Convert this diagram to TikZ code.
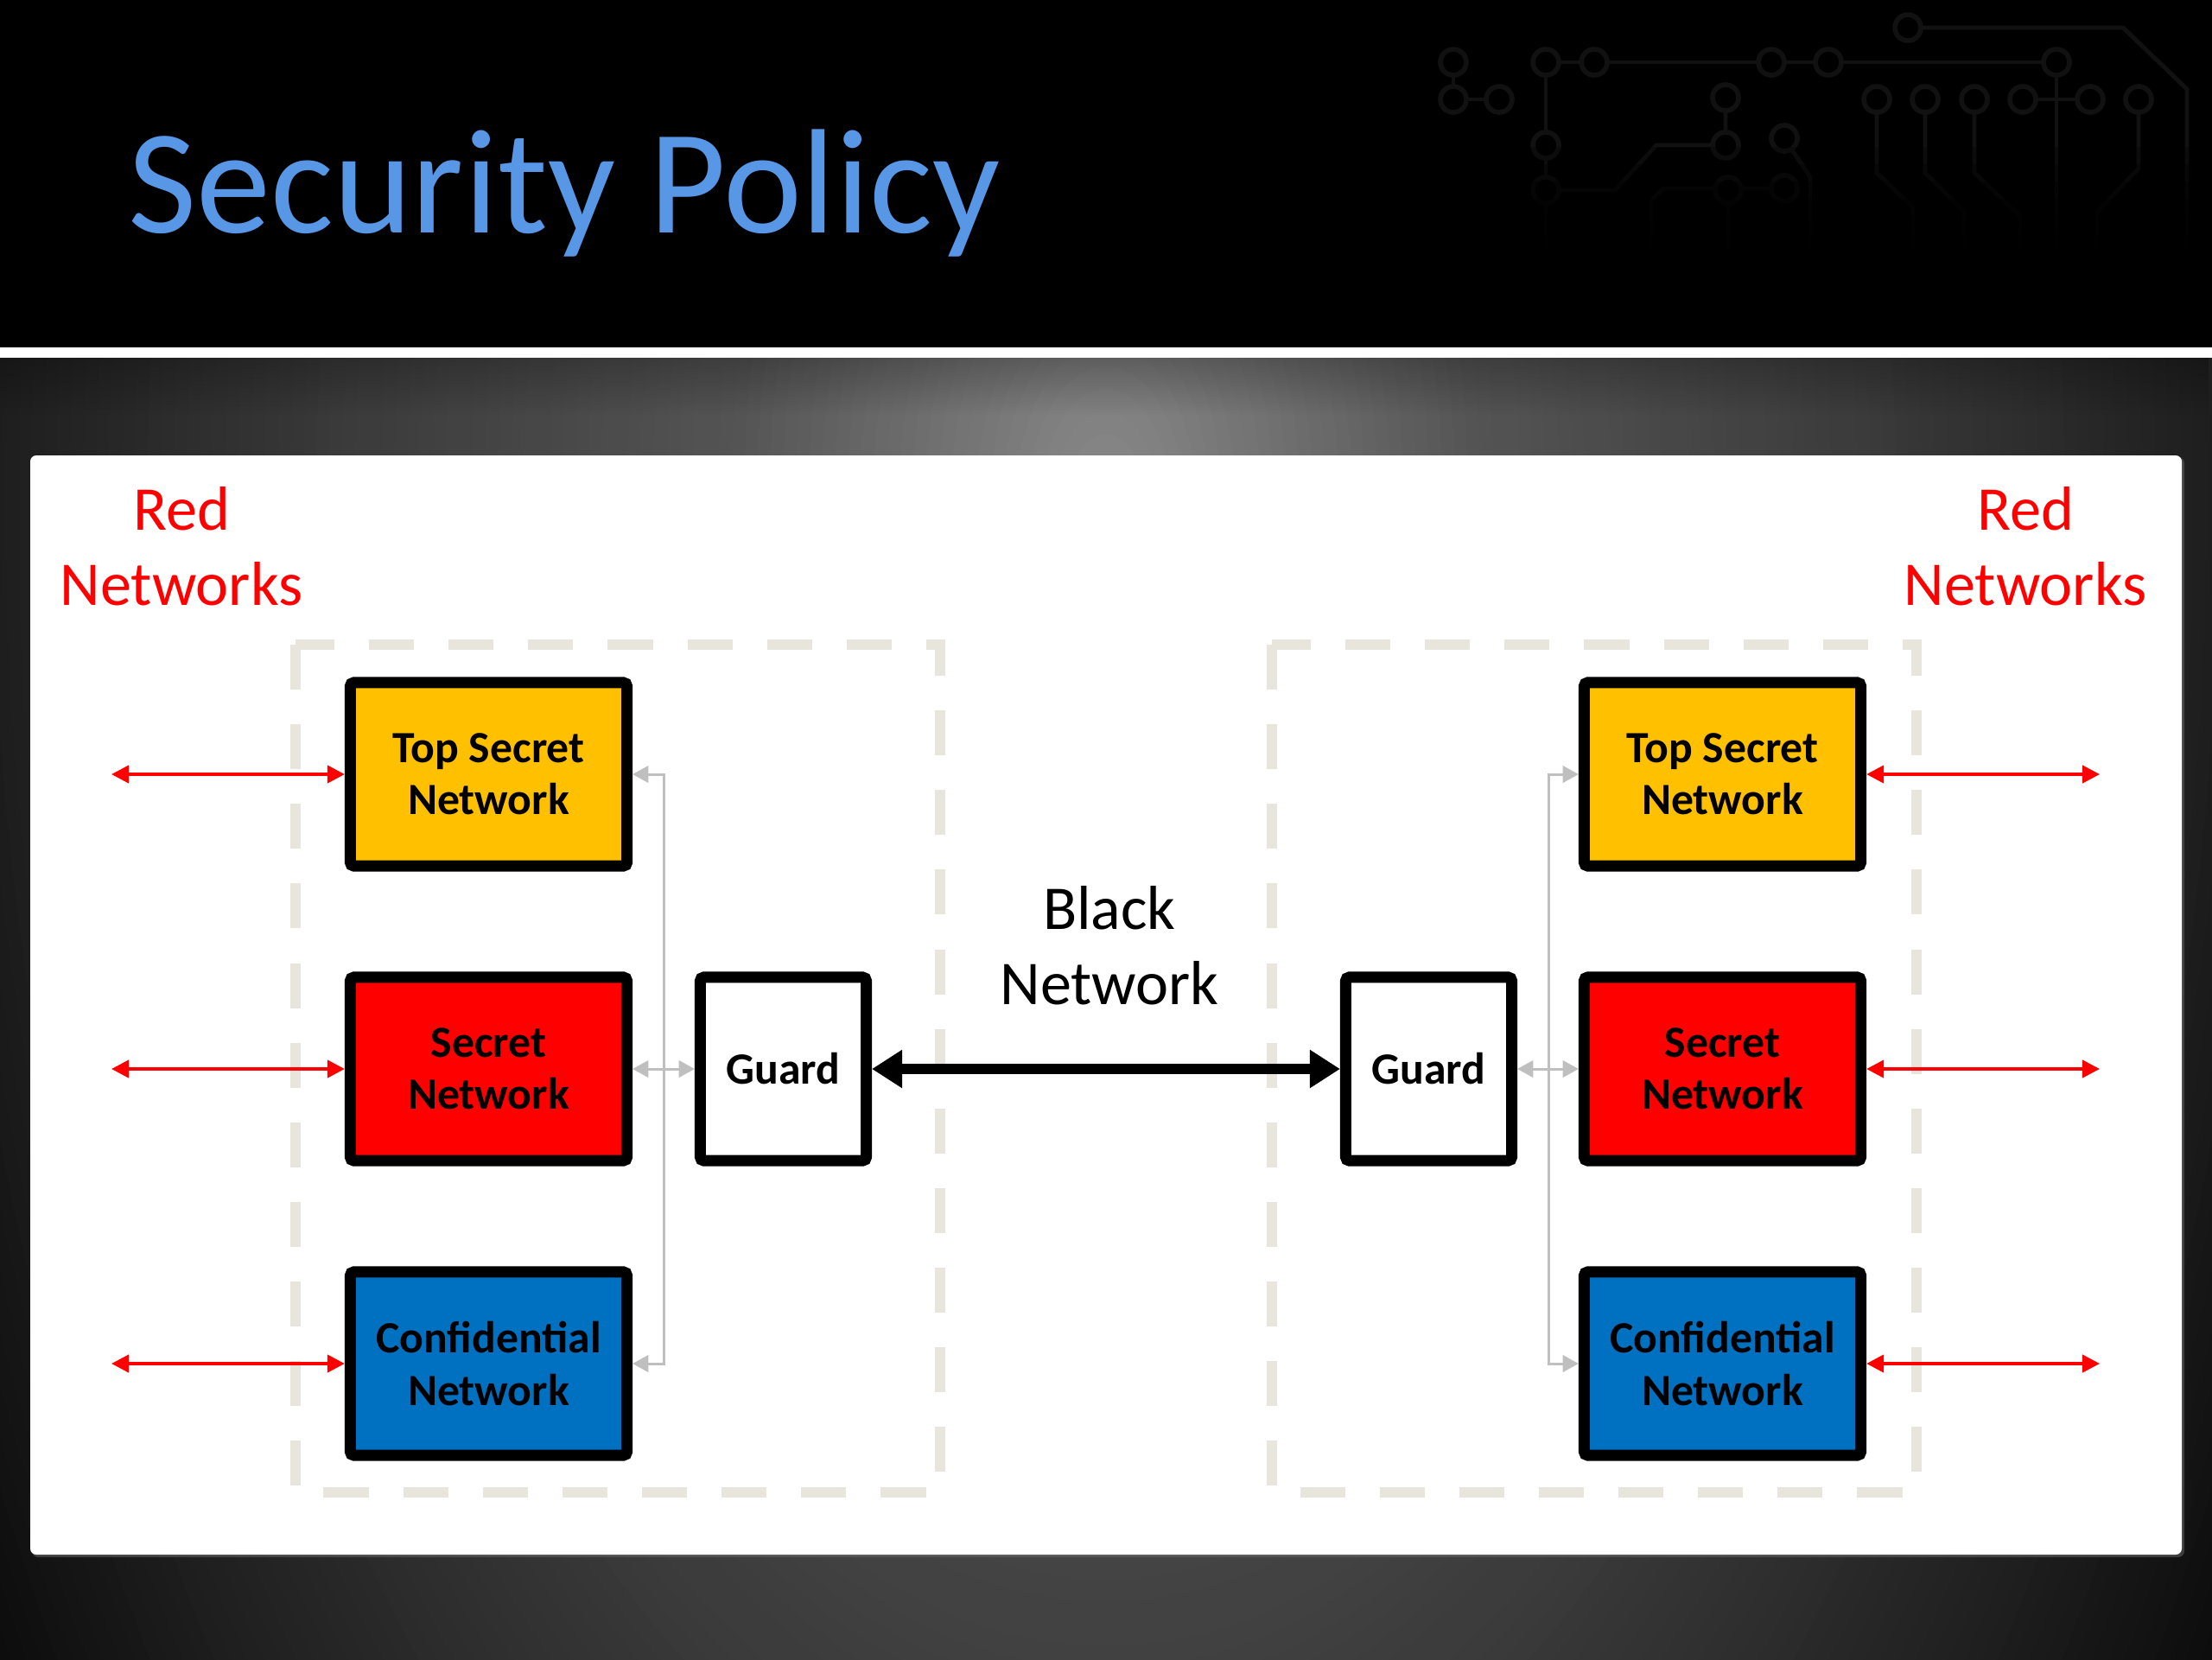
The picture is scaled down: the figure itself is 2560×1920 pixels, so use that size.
\documentclass[tikz,border=0pt]{standalone}
\usepackage{fontspec}
\setmainfont{Carlito}
\usetikzlibrary{arrows.meta,calc,fadings}

\definecolor{titleblue}{RGB}{88,150,230}
\definecolor{tsyellow}{RGB}{255,192,0}
\definecolor{secred}{RGB}{255,0,0}
\definecolor{confblue}{RGB}{0,112,192}
\definecolor{dashbeige}{RGB}{232,230,220}
\definecolor{congray}{RGB}{191,191,191}
\definecolor{circuit}{RGB}{17,17,17}

\tikzfading[name=shadowdown, top color=transparent!75, bottom color=transparent!100]

\tikzset{
  netbox/.style={draw=black, line width=3.7pt, rounded corners=1.2pt,
    minimum width=3.2cm, minimum height=2.12cm, inner sep=0pt, align=center,
    text=black, font={\fontsize{14.7pt}{17.1pt}\selectfont\bfseries}},
  guardbox/.style={netbox, fill=white, minimum width=1.92cm},
  biglabel/.style={align=center, inner sep=0pt,
    font={\fontsize{20.5pt}{24.7pt}\selectfont}},
  redarrow/.style={draw=secred, line width=1.15pt,
    {Triangle[length=5.7pt,width=5.7pt]}-{Triangle[length=5.7pt,width=5.7pt]}},
  grayarrow/.style={draw=congray, line width=0.85pt,
    {Triangle[length=5.2pt,width=5.5pt]}-{Triangle[length=5.2pt,width=5.5pt]}},
  blackarrow/.style={draw=black, line width=3.2pt,
    {Triangle[length=10pt,width=12pt]}-{Triangle[length=10pt,width=12pt]}},
  dashbox/.style={draw=dashbeige, line width=3.4pt, dash pattern=on 14.8pt off 11.4pt},
  circline/.style={draw=circuit, line width=1.4pt},
  ring/.style={draw=circuit, fill=black, line width=1.6pt},
}

\begin{document}
\begin{tikzpicture}[x=0.01cm, y=-0.01cm]
\useasboundingbox (0,0) rectangle (2560,1920);

% backgrounds
\fill[black] (0,0) rectangle (2560,1920);
\begin{scope}
  \clip (0,414) rectangle (2560,1920);
  \foreach \k in {128,127,...,1} {
    \pgfmathsetmacro\rr{\k*0.01}
    \pgfmathsetmacro\gg{\rr<0.29 ? 0.54-0.724*\rr : (\rr<0.59 ? 0.33-0.333*(\rr-0.29) : (\rr<0.85 ? 0.23-0.423*(\rr-0.59) : (\rr<1.0 ? 0.12-0.467*(\rr-0.85) : 0.05-0.167*(\rr-1.0))))}
    \pgfmathsetmacro\bb{min(100,max(0,100-100*\gg))}
    \fill[black!\bb] (1280,580) ellipse [x radius={1500*\rr}, y radius={2600*\rr}];
  }
  \fill[black, path fading=shadowdown] (0,414) rectangle (2560,480);
\end{scope}
\fill[white] (0,402) rectangle (2560,414);

% circuit decoration
\draw[circline] (1682,72) -- (1682,115) -- (1735,115);
\draw[circline] (1789,72) -- (2380,72);
\draw[circline] (2208,32) -- (2457,32) -- (2531,103) -- (2531,300);
\draw[circline] (1789,72) -- (1789,300);
\draw[circline] (1789,220) -- (1869,220) -- (1917,168) -- (1997,168) -- (1997,113);
\draw[circline] (2065,160) -- (2095,205) -- (2095,300);
\draw[circline] (1911,300) -- (1911,232) -- (1925,218) -- (2065,218);
\draw[circline] (2000,220) -- (2000,300);
\draw[circline] (2172,115) -- (2172,200) -- (2214,240) -- (2214,300);
\draw[circline] (2228,115) -- (2228,200) -- (2273,245) -- (2273,300);
\draw[circline] (2285,115) -- (2285,200) -- (2338,250) -- (2338,300);
\draw[circline] (2380,72) -- (2380,300);
\draw[circline] (2341,115) -- (2419,115);
\draw[circline] (2475,115) -- (2475,195) -- (2427,245) -- (2427,300);
\foreach \p in {(1682,72),(1682,115),(1735,115),(1789,72),(1845,72),(2050,72),
  (2116,72),(2208,32),(2380,72),(1997,113),(2172,115),(2228,115),(2285,115),
  (2341,115),(2419,115),(2475,115),(1789,168),(1789,220),(1997,168),(2065,160),
  (2000,220),(2065,218)}
  \draw[ring] \p circle[radius=15];
\foreach \yy in {170,190,210,230,250,270,290}
  \fill[black, opacity=0.25] (1600,\yy) rectangle (2560,300);

% title
\node[anchor=base west, inner sep=0pt, text=titleblue,
  font={\fontsize{49pt}{58pt}\selectfont}] (title) at (148,269) {Security Policy};

% panel
\fill[black!60, opacity=0.5, rounded corners=2pt] (37,529) rectangle (2528,1802);
\fill[white, rounded corners=2pt] (35,527) rectangle (2525,1799);

% dashed groups
\draw[dashbox] (342,746) rectangle (1088,1727);
\draw[dashbox] (1472,746) rectangle (2218,1727);

% labels
\node[biglabel, text=secred] (lred) at (210,632) {Red\\Networks};
\node[biglabel, text=secred] (rred) at (2344,632) {Red\\Networks};
\node[biglabel, text=black] (blk) at (1284,1094) {Black\\Network};

% left boxes
\node[netbox, fill=tsyellow] (lts) at (565.5,896) {Top Secret\\Network};
\node[netbox, fill=secred] (lsec) at (565.5,1237) {Secret\\Network};
\node[netbox, fill=confblue] (lconf) at (565.5,1578) {Confidential\\Network};
\node[guardbox] (lguard) at (906.5,1237) {Guard};

% right boxes
\node[netbox, fill=tsyellow] (rts) at (1993.5,896) {Top Secret\\Network};
\node[netbox, fill=secred] (rsec) at (1993.5,1237) {Secret\\Network};
\node[netbox, fill=confblue] (rconf) at (1993.5,1578) {Confidential\\Network};
\node[guardbox] (rguard) at (1653.5,1237) {Guard};

% red network links
\coordinate (lr1) at (129,896);
\coordinate (lr2) at (129,1237);
\coordinate (lr3) at (129,1578);
\coordinate (rr1) at (2430,896);
\coordinate (rr2) at (2430,1237);
\coordinate (rr3) at (2430,1578);
\draw[redarrow] (lr1) -- (lts.west);
\draw[redarrow] (lr2) -- (lsec.west);
\draw[redarrow] (lr3) -- (lconf.west);
\draw[redarrow] (rts.east) -- (rr1);
\draw[redarrow] (rsec.east) -- (rr2);
\draw[redarrow] (rconf.east) -- (rr3);

% gray guard links
\coordinate (lbus) at (768,1237);
\coordinate (rbus) at (1792,1237);
\draw[grayarrow] (lts.east) -| (lbus) |- (lconf.east);
\draw[grayarrow] (lsec.east) -- (lguard.west);
\draw[grayarrow] (rts.west) -| (rbus) |- (rconf.west);
\draw[grayarrow] (rguard.east) -- (rsec.west);

% black network link
\draw[blackarrow] (lguard.east) -- (rguard.west);
\end{tikzpicture}
\end{document}
